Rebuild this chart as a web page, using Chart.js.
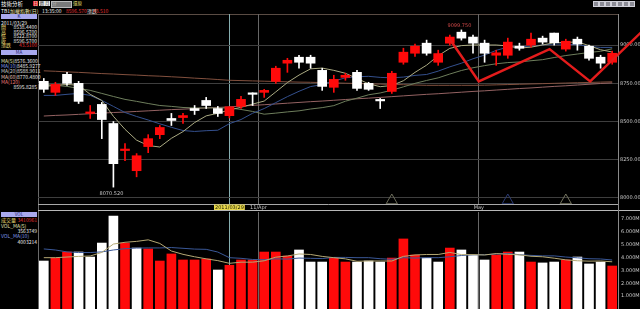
<!DOCTYPE html>
<html><head><meta charset="utf-8">
<script src="https://cdn.jsdelivr.net/npm/chart.js@4.4.1/dist/chart.umd.min.js"></script>
<style>
html,body{margin:0;padding:0;background:#000;width:640px;height:309px;overflow:hidden;font-family:"Noto Sans CJK TC","DejaVu Sans",sans-serif;}
.t{position:absolute;font-size:5px;line-height:5px;white-space:nowrap;color:#e8e8e8;}
.row{position:absolute;left:1px;width:36px;height:5px;font-size:5px;line-height:5px;display:flex;justify-content:space-between;white-space:nowrap;color:#e8e8e8;}
.hdr{position:absolute;left:1px;width:36px;height:5px;background:#a9a9ee;color:#20206a;font-size:4.5px;line-height:5px;text-align:center;}
.ln{position:absolute;}
.ic{position:absolute;top:1px;width:4px;height:4px;background:#8c8c96;border:1px solid #cfcfd8;}
#pw{position:absolute;left:38px;top:14px;width:602px;height:196px;}
#vw{position:absolute;left:38px;top:212px;width:602px;height:97px;}
</style></head><body>
<!-- header -->
<div class="t" style="left:1px;top:0.5px;font-size:5.5px;line-height:6px;color:#fff">技術分析</div>
<div class="ln" style="left:33px;top:1px;width:5px;height:5px;background:#d82020;"></div>
<div class="t" style="left:33.5px;top:1px;color:#fff;font-size:4.5px">日</div>
<div class="ln" style="left:39px;top:1px;width:11px;height:5px;background:#e8e8e8;"></div>
<div class="t" style="left:39.5px;top:1px;color:#333;font-size:4.5px">週 月</div>
<div class="ln" style="left:51px;top:1px;width:19px;height:5px;background:#7a7a7a;border:0.5px solid #bbb;"></div>
<div class="t" style="left:52px;top:1px;color:#bbb;font-size:4.5px">分</div>
<div class="t" style="left:73px;top:1px;color:#e8e070;font-size:4.5px">還原</div>
<div class="t" style="left:1px;top:7.5px;color:#fff">TB1</div>
<div class="t" style="left:10px;top:7.5px;color:#f0e8b0">加權指數(日)</div>
<div class="t" style="left:42px;top:7.5px;color:#e8e8e8">13:35:00</div>
<div class="t" style="left:66px;top:7.5px;color:#e03030">8596.570</div>
<div class="t" style="left:87px;top:7.5px;color:#e8e8e8">漲跌</div>
<div class="t" style="left:93px;top:7.5px;color:#e03030">43.510</div>
<div class="ic" style="left:593px"></div><div class="ic" style="left:599px"></div><div class="ic" style="left:605px"></div><div class="ic" style="left:611px"></div><div class="ic" style="left:617px"></div><div class="ic" style="left:623px"></div><div class="ic" style="left:629px"></div>

<!-- frame lines -->
<div class="ln" style="left:38px;top:14px;width:580px;height:1px;background:#5a4c44;"></div>
<div class="ln" style="left:37.5px;top:14px;width:1px;height:295px;background:#6a6a6a;"></div>
<div class="ln" style="left:38px;top:209.5px;width:602px;height:1.5px;background:#b8b8b8;"></div>
<div class="ln" style="left:617.5px;top:14px;width:1px;height:295px;background:#8a8a8a;"></div>

<!-- left panel: K -->
<div class="hdr" style="top:14px">K</div>
<div class="t" style="left:1px;top:19.5px">2011/03/29</div>
<div class="row" style="top:24px"><span style="color:#e8d870">開</span><span>8538.4400</span></div>
<div class="row" style="top:28.5px"><span style="color:#e8d870">高</span><span>8596.5700</span></div>
<div class="row" style="top:33px"><span style="color:#e8d870">低</span><span>8522.8700</span></div>
<div class="row" style="top:37.5px"><span style="color:#e8d870">收</span><span>8596.5700</span></div>
<div class="row" style="top:42px"><span style="color:#e8d870">漲跌</span><span style="color:#e03030">43.5100</span></div>
<!-- left panel: MA -->
<div class="hdr" style="top:49.5px">MA</div>
<div class="row" style="top:57.5px"><span style="color:#e0e0b0">MA(5)</span><span>8576.3600</span></div>
<div class="row" style="top:63px"><span style="color:#7f9ae8">MA(10)</span><span>8485.9277</span></div>
<div class="row" style="top:68px"><span style="color:#c8c8c8">MA(20)</span><span>8588.9011</span></div>
<div class="row" style="top:73.5px"><span style="color:#e8c0b8">MA(60)</span><span>8770.4800</span></div>
<div class="row" style="top:78.5px"><span style="color:#e87878">MA(120)</span><span></span></div>
<div class="row" style="top:84px"><span></span><span>8595.8285</span></div>
<!-- left panel: VOL -->
<div class="hdr" style="top:212px">VOL</div>
<div class="row" style="top:217px"><span style="color:#e8d870">成交量</span><span style="color:#e03030">3410961</span></div>
<div class="row" style="top:222.5px"><span style="color:#e0e0b0">VOL_MA(5)</span><span></span></div>
<div class="row" style="top:228px"><span></span><span>3563749</span></div>
<div class="row" style="top:233px"><span style="color:#7f9ae8">VOL_MA(10)</span><span></span></div>
<div class="row" style="top:238.5px"><span></span><span>4003214</span></div>

<div id="pw"><canvas id="price"></canvas></div>
<div id="vw"><canvas id="vol"></canvas></div>

<script>
// ---- data ----
const dates = ["2011/03/07","2011/03/08","2011/03/09","2011/03/10","2011/03/11","2011/03/14","2011/03/15","2011/03/16","2011/03/17","2011/03/18",
"2011/03/21","2011/03/22","2011/03/23","2011/03/24","2011/03/25","2011/03/28","2011/03/29","2011/03/30","2011/03/31","2011/04/01",
"2011/04/06","2011/04/07","2011/04/08","2011/04/11","2011/04/12","2011/04/13","2011/04/14","2011/04/15","2011/04/18","2011/04/19",
"2011/04/20","2011/04/21","2011/04/22","2011/04/25","2011/04/26","2011/04/27","2011/04/28","2011/04/29","2011/05/02","2011/05/03",
"2011/05/04","2011/05/05","2011/05/06","2011/05/09","2011/05/10","2011/05/11","2011/05/12","2011/05/13","2011/05/16","2011/05/17"];
const opens = [8763,8691,8809,8750,8553,8612,8487,8310,8178,8336,8414,8520,8526,8585,8638,8585,8538.44,8599,8684,8691,
8763,8882,8921,8921,8835,8724,8789,8822,8750,8641,8697,8888,8947,9013,8888,9013,9085,9053,9013,8934,
8934,8993,9000,9046,9079,8974,9039,8993,8921,8888];
const highs = [8782,8757,8822,8763,8605,8625,8500,8355,8290,8414,8474,8553,8553,8605,8658,8599,8596.57,8665,8688,8711,
8862,8914,8934,8934,8849,8803,8816,8835,8757,8651,8829,8980,9007,9033,8967,9066,9099.75,9066,9033,8967,
9046,9013,9079,9059,9079,9039,9053,9000,8934,8961];
const lows = [8691,8671,8737,8618,8520,8388,8070.52,8243,8138,8296,8388,8474,8487,8546,8585,8533,8522.87,8585,8605,8658,
8750,8822,8849,8849,8704,8691,8770,8704,8704,8585,8684,8875,8927,8934,8868,9000,9033,8947,8888,8868,
8914,8967,8987,9007,9000,8961,8967,8901,8849,8875];
const closes = [8711,8743,8750,8632,8559,8513,8224,8316,8276,8388,8461,8507,8539,8572,8605,8553,8596.57,8645,8678,8704,
8849,8901,8888,8882,8730,8776,8803,8717,8711,8635,8816,8954,8993,8947,8945,9053,9046,9013,8947,8950,
9020,8980,9039,9020,9016,9026,9007,8914,8882,8947];
const ma5 = [8730,8737,8743,8737,8678,8638,8534,8449,8378,8343,8333,8390,8434,8493,8537,8554,8576,8593,8614,8634,
8694,8755,8804,8845,8850,8835,8816,8782,8747,8728,8736,8767,8822,8869,8931,8979,8997,9001,9001,9001,
8995,8981,8987,9001,9016,9017,9022,8997,8970,8955];
const ma10 = [8671,8671,8678,8684,8671,8638,8599,8559,8533,8510,8485,8462,8441,8435,8440,8443,8486,8513,8554,8585,
8624,8663,8698,8729,8742,8765,8786,8793,8796,8789,8786,8791,8802,8808,8830,8858,8882,8911,8935,8966,
8987,8989,8994,9001,9008,9006,9002,8992,8985,8985];
const ma20 = [8743,8737,8730,8717,8704,8684,8664,8645,8632,8618,8605,8599,8592,8589,8589,8589,8589,8579,8566,8548,
8555,8563,8570,8582,8591,8604,8633,8653,8675,8687,8705,8727,8750,8769,8786,8811,8834,8852,8866,8878,
8886,8890,8898,8905,8919,8932,8942,8952,8960,8976];
const ma60 = [8832,8829,8825,8822,8818,8814,8811,8807,8804,8800,8797,8793,8789,8784,8780,8775,8770,8768,8766,8764,
8762,8760,8758,8757,8755,8753,8751,8749,8747,8745,8743,8741,8739,8737,8737,8737,8737,8737,8738,8740,
8742,8744,8746,8748,8750,8752,8754,8756,8758,8760];
const ma120 = [8536,8540,8543,8547,8551,8555,8559,8562,8566,8570,8574,8578,8581,8585,8589,8592,8596,8601,8606,8610,
8615,8620,8625,8630,8634,8639,8644,8649,8653,8658,8663,8668,8673,8678,8682,8687,8692,8697,8701,8706,
8711,8716,8720,8725,8730,8734,8739,8744,8749,8753];
const volume = [3.74,3.97,4.44,4.44,4.05,5.14,7.25,5.14,4.75,4.68,3.74,4.29,3.82,3.82,3.90,3.04,3.41,3.82,3.82,4.44,
4.44,4.13,4.60,3.66,3.66,3.97,3.66,3.66,3.74,3.66,3.97,5.46,4.21,3.97,3.66,4.75,4.60,4.21,3.82,4.21,
4.44,4.44,3.66,3.59,3.66,3.82,4.05,3.51,3.66,3.35];
const volMa5 = [4.0,4.0,4.05,4.1,4.13,4.41,5.06,5.20,5.27,5.39,5.11,4.52,4.26,4.07,3.91,3.77,3.56,3.65,3.65,3.76,
4.04,4.13,4.29,4.25,4.10,4.00,3.91,3.72,3.74,3.74,3.74,4.10,4.21,4.25,4.25,4.41,4.24,4.24,4.21,4.32,
4.26,4.22,4.11,4.07,3.96,3.83,3.76,3.73,3.74,3.68];
const volMa10 = [4.68,4.6,4.45,4.4,4.4,4.45,4.6,4.7,4.75,4.76,4.76,4.79,4.73,4.67,4.65,4.44,4.00,3.95,3.86,3.84,
3.91,3.89,3.97,3.95,3.93,4.02,4.02,4.00,4.00,3.92,3.87,4.00,3.97,4.00,4.00,4.07,4.17,4.22,4.23,4.29,
4.33,4.23,4.18,4.14,4.14,4.05,3.99,3.92,3.90,3.82];
// hand-drawn trend line (x = candle index, y = price)
const trendX = [35,37.5,43.6,47.1,51.6];
const trendY = [9039,8763,8974,8763,9092];
// signal triangles
const signalX = [30,40,45];
const signalY = [7983,7983,7983];
const priceTicks = [8000,8250,8500,8750,9000];
const volTicks = [1,2,3,4,5,6,7];
const markTicks = [16,18.5,37.5];
const markLabels = ["2011/03/29","11/Apr","May"];

// ---- styling ----
const RED = '#ff0a0a', WHITE = '#ffffff';
const candleColors = closes.map((c,i)=> c >= opens[i] ? RED : WHITE);
const volColors = closes.map((c,i)=> i>0 && c > closes[i-1] ? RED : WHITE);
const tickFont = {size:5, family:'DejaVu Sans'};
const base = {
  responsive:true, maintainAspectRatio:false, animation:false, devicePixelRatio:1, events:[],
  layout:{padding:0, autoPadding:false},
  plugins:{legend:{display:false}, tooltip:{enabled:false}}
};
function lineDs(data, color, order){ return {type:'line', data, borderColor:color, borderWidth:1, pointRadius:0, tension:0, order}; }
function markAxis(showLabels){
  return {
    type:'linear', position:'bottom', min:-0.5, max:49.5, display:true, offset:false,
    afterBuildTicks: s => { s.ticks = markTicks.map(v=>({value:v})); },
    afterFit: s => { s.height = showLabels ? 6 : 0; s.paddingLeft = 0; s.paddingRight = 0; },
    grid:{ offset:false, drawTicks:false, lineWidth:1, color: c => c.index === 0 ? '#86aeb0' : '#676767' },
    border:{ display:showLabels, color:'#a8a8a8' },
    ticks:{ display:showLabels, autoSkip:false, maxRotation:0, padding:0.5, font:tickFont,
      color: c => c.index === 0 ? '#1a1a00' : '#c8c8c8',
      callback: (v,i) => markLabels[i],
      showLabelBackdrop: c => c.index === 0,
      backdropColor:'#e8d84a', backdropPadding:{top:0,bottom:0,left:1,right:1} }
  };
}
// labels for the highest high and lowest low, placed through the scales
const extremaLabels = {
  id:'extremaLabels',
  afterDatasetsDraw(chart){
    const {ctx, scales:{x, y}} = chart;
    const hi = highs.indexOf(Math.max(...highs));
    const lo = lows.indexOf(Math.min(...lows));
    ctx.save();
    ctx.font = '5px "DejaVu Sans"';
    ctx.textAlign = 'center';
    ctx.fillStyle = '#d04848'; ctx.textBaseline = 'bottom';
    ctx.fillText(highs[hi].toFixed(3), x.getPixelForValue(hi) - 2, y.getPixelForValue(highs[hi]) - 2);
    ctx.fillStyle = '#c8c8c8'; ctx.textBaseline = 'top';
    ctx.fillText(lows[lo].toFixed(3), x.getPixelForValue(lo) - 2, y.getPixelForValue(lows[lo]) + 4);
    ctx.restore();
  }
};

new Chart(document.getElementById('price'), {
  type:'bar',
  data:{
    labels: dates,
    datasets:[
      {type:'line', xAxisID:'x2', data: trendX.map((x,i)=>({x, y:trendY[i]})), borderColor:'#e41c1c', borderWidth:2.5, pointRadius:0, tension:0, clip:false, order:0},
      {type:'scatter', xAxisID:'x2', data: signalX.map((x,i)=>({x, y:signalY[i]})), pointStyle:'triangle', pointRadius:6.5, borderWidth:1,
        pointBorderColor:['#6c6c5a','#2a3a72','#74745e'], pointBackgroundColor:'rgba(0,0,0,0)', order:1},
      {type:'bar', data: opens.map((o,i)=>[o, closes[i]]), backgroundColor:candleColors, barThickness:9, grouped:false, minBarLength:1.5, order:2},
      {type:'bar', data: lows.map((l,i)=>[l, highs[i]]), backgroundColor:candleColors, barThickness:1, grouped:false, order:3},
      lineDs(ma5,'#aaaa82',4), lineDs(ma10,'#34508e',5), lineDs(ma20,'#6e7e5c',6), lineDs(ma60,'#82503e',7), lineDs(ma120,'#946262',8)
    ]
  },
  options:{...base,
    scales:{
      x:{type:'category', offset:true, display:false},
      x2: markAxis(true),
      y:{position:'right', min:7960, max:9204,
        afterBuildTicks: s => { s.ticks = priceTicks.map(v=>({value:v})); },
        afterFit: s => { s.width = 22; s.paddingTop = 0; s.paddingBottom = 0; },
        grid:{color:'#3e3e3e', lineWidth:1, drawTicks:false},
        border:{color:'#8a8a8a'},
        ticks:{color:'#c8c8c8', font:tickFont, padding:2, callback: v => v.toFixed(3)}
      }
    }
  },
  plugins:[extremaLabels]
});

new Chart(document.getElementById('vol'), {
  type:'bar',
  data:{
    labels: dates,
    datasets:[
      lineDs(volMa5,'#b4a874',0), lineDs(volMa10,'#3a5898',1),
      {type:'bar', data: volume, backgroundColor: volColors, barThickness:9, grouped:false, order:2}
    ]
  },
  options:{...base,
    scales:{
      x:{type:'category', offset:true, display:false},
      x2: markAxis(false),
      y:{position:'right', min:0, max:7.56,
        afterBuildTicks: s => { s.ticks = volTicks.map(v=>({value:v})); },
        afterFit: s => { s.width = 22; s.paddingTop = 0; s.paddingBottom = 0; },
        grid:{display:false, drawTicks:false},
        border:{color:'#8a8a8a'},
        ticks:{color:'#c8c8c8', font:tickFont, padding:3, callback: v => v.toFixed(3) + 'M'}
      }
    }
  }
});
</script>
</body></html>
